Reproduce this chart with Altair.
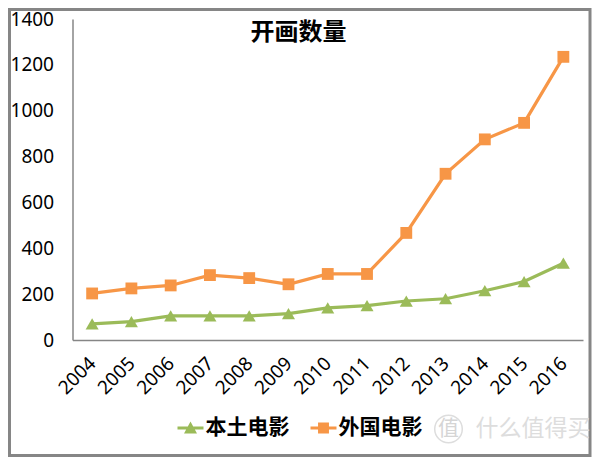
import altair as alt
import pandas as pd

years = ["2004","2005","2006","2007","2008","2009","2010","2011","2012","2013","2014","2015","2016"]
local_films = [70,80,105,105,105,115,140,150,170,180,215,255,335]
foreign_films = [203,225,238,283,270,243,288,288,467,725,875,947,1235]
series_names = ["本土电影","外国电影"]
title_text = "开画数量"
watermark_text = "什么值得买"
watermark_badge = "值"

FONT = "Noto Sans CJK SC"
LATIN = "Noto Sans"
GREEN = "#9BBB59"
ORANGE = "#F79646"
GRAY = "#868686"

df = pd.DataFrame({
    "year": years * 2,
    "count": local_films + foreign_films,
    "series": [series_names[0]] * len(years) + [series_names[1]] * len(years),
})
x = alt.X("year:N", sort=years, title=None,
          scale=alt.Scale(type="point", padding=0.5),
          axis=alt.Axis(labelAngle=-45, labelAlign="right", labelBaseline="middle",
                        labelFont=LATIN, labelFontSize=19, labelColor="black",
                        labelPadding=20, ticks=False, domainColor=GRAY, domainWidth=1.5,
                        labelOverlap=False, grid=False))
y = alt.Y("count:Q", title=None,
          scale=alt.Scale(domain=[0, 1400], nice=False),
          axis=alt.Axis(values=list(range(0, 1401, 200)), format="d", labelFont=LATIN, labelFontSize=19,
                        labelColor="black", labelPadding=19, ticks=False,
                        domainColor=GRAY, domainWidth=1.5, grid=False))
color_scale = alt.Scale(domain=series_names, range=[GREEN, ORANGE])

lines = alt.Chart(df).mark_line(strokeWidth=3.2).encode(
    x=x, y=y, color=alt.Color("series:N", scale=color_scale, legend=None))
points = alt.Chart(df).mark_point(filled=True, opacity=1).encode(
    x=x, y=y,
    color=alt.Color("series:N", scale=color_scale, legend=None),
    size=alt.Size("series:N", legend=None, scale=alt.Scale(domain=series_names, range=[170, 140])),
    shape=alt.Shape("series:N", legend=None,
                    scale=alt.Scale(domain=series_names, range=["triangle-up", "square"])))

legend_paths = [
    "M-1,-0.11H1V0.11H-1Z M0,-0.5L0.5,0.42H-0.5Z",
    "M-1,-0.11H1V0.11H-1Z M-0.42,-0.42H0.42V0.42H-0.42Z",
]


def legend_entry(i, fill, legend_x):
    return alt.Chart(df[df["series"] == series_names[i]]).mark_point(filled=True, opacity=0).encode(
        x=x, y=y,
        color=alt.value(fill),
        shape=alt.Shape("series:N", scale=alt.Scale(domain=[series_names[i]], range=[legend_paths[i]]),
                        legend=alt.Legend(title=None, orient="none", legendX=legend_x, legendY=396,
                                          symbolSize=676, symbolOpacity=1, symbolStrokeWidth=0,
                                          labelFont=FONT, labelFontSize=21,
                                          labelFontWeight="bold", labelColor="black",
                                          labelOffset=2, padding=0)))


one = pd.DataFrame({"label": [watermark_text], "badge": [watermark_badge]})
wm = alt.Chart(one).mark_text(font=FONT, fontSize=23, color="#DDDDDD", align="left", baseline="middle").encode(
    text="label:N", x=alt.value(403), y=alt.value(410))
badge = alt.Chart(one).mark_text(font=FONT, fontSize=21, color="#D5D5D5", align="center", baseline="middle").encode(
    text="badge:N", x=alt.value(376), y=alt.value(410))
ring = alt.Chart(one).mark_point(size=760, color="#DDDDDD", strokeWidth=1.5, opacity=1).encode(
    x=alt.value(376), y=alt.value(410))
frame = alt.Chart(one).mark_rect(fill="transparent", stroke=GRAY, strokeWidth=3).encode(
    x=alt.value(-63), x2=alt.value(517.5), y=alt.value(-9.5), y2=alt.value(436.5))

chart = alt.layer(frame, lines, points, legend_entry(0, GREEN, 105), legend_entry(1, ORANGE, 238),
                  ring, badge, wm).resolve_scale(
    shape="independent"
).properties(
    width=510.5, height=321,
    padding={"left": 64.5, "top": 11, "right": 9, "bottom": 117},
    autosize=alt.AutoSizeParams(type="none"),
    title=alt.TitleParams(title_text, font=FONT, fontSize=24, fontWeight="bold", color="black",
                          anchor="start", frame="group", dx=178, dy=41),
).configure_view(stroke=None)

chart.save("out.html", embed_options={"renderer": "svg", "actions": False})
